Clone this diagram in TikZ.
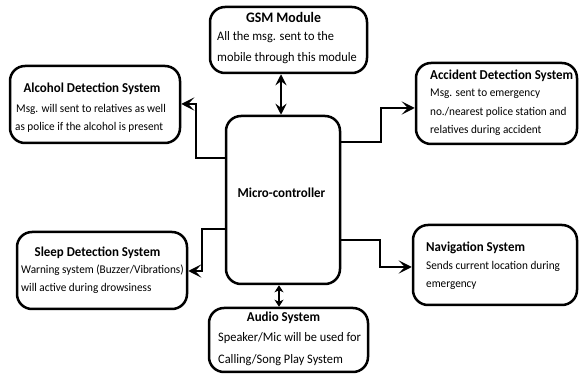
\documentclass[tikz,border=0pt]{standalone}
\usepackage{fontspec}
\setmainfont[FakeStretch=0.95]{Carlito}
\usetikzlibrary{arrows.meta,calc}
\begin{document}
\begin{tikzpicture}[x=1pt,y=-1pt,
  box/.style={draw=black,line width=2.5pt,rounded corners=15pt,inner sep=0pt},
  ttl/.style={anchor=base,inner sep=0pt,font=\bfseries\fontsize{13.6}{16}\selectfont},
  txt/.style={anchor=base west,inner sep=0pt,font=\fontsize{11.8}{14}\selectfont},
  bigtxt/.style={txt,font=\fontsize{13}{15}\selectfont},
  conn/.style={line width=2.4pt,-{Stealth[length=13pt,width=13pt,inset=6pt]}},
  dconn/.style={line width=2.4pt,{Stealth[length=11pt,width=11pt,inset=4pt]}-{Stealth[length=11pt,width=11pt,inset=4pt]}},
  sconn/.style={line width=2.4pt,{Stealth[length=7pt,width=9pt,inset=2pt]}-{Stealth[length=7pt,width=9pt,inset=2pt]}}]
\useasboundingbox (0,0) rectangle (579,374);
% boxes
\node[box,minimum width=157pt,minimum height=66pt] (gsm) at (288.5,40) {};
\node[box,minimum width=170pt,minimum height=77pt] (alc) at (95,104.5) {};
\node[box,minimum width=114pt,minimum height=168pt] (mc) at (283,200) {};
\node[box,minimum width=161pt,minimum height=81pt] (acc) at (496.5,103.5) {};
\node[box,minimum width=170pt,minimum height=77pt] (slp) at (102,270.5) {};
\node[box,minimum width=159pt,minimum height=64pt] (aud) at (288.5,340) {};
\node[box,minimum width=164pt,minimum height=80pt] (nav) at (495,265) {};
% texts
\node[ttl,font=\bfseries\fontsize{14.5}{17}\selectfont] (gsmT) at (283.5,23) {GSM Module};
\node[bigtxt] (gsmA) at (217,41) {All the msg. sent to the};
\node[bigtxt] (gsmB) at (217,62) {mobile through this module};
\node[ttl] (alcT) at (92,93) {Alcohol Detection System};
\node[txt] (alcA) at (16,113) {Msg. will sent to relatives as well};
\node[txt] (alcB) at (15,131) {as police if the alcohol is present};
\node[ttl] (mcT) at (281.5,198) {Micro-controller};
\node[ttl,anchor=base west] (accT) at (430,80) {Accident Detection System};
\node[txt] (accA) at (430,97) {Msg. sent to emergency};
\node[txt] (accB) at (430,116) {no./nearest police station and};
\node[txt] (accC) at (430,134) {relatives during accident};
\node[ttl] (slpT) at (97.5,257) {Sleep Detection System};
\node[txt] (slpA) at (21,274) {Warning system (Buzzer/Vibrations)};
\node[txt] (slpB) at (21,292) {will active during drowsiness};
\node[ttl] (audT) at (283.5,322) {Audio System};
\node[bigtxt] (audA) at (218,342) {Speaker/Mic will be used for};
\node[bigtxt] (audB) at (218,363) {Calling/Song Play System};
\node[ttl,anchor=base west] (navT) at (426,252) {Navigation System};
\node[txt] (navA) at (426,270) {Sends current location during};
\node[txt] (navB) at (426,288) {emergency};
% connectors
\draw[dconn] ([xshift=-2pt]mc.north |- gsm.south) -- ([xshift=-2pt]mc.north);
\draw[sconn] ([xshift=-4pt]mc.south) -- ([xshift=-4pt]mc.south |- aud.north);
\draw[conn] ([yshift=-43pt]mc.north west) -- ++(-29,0) |- ([yshift=0.5pt]alc.east);
\draw[conn] ([yshift=-27pt]mc.north east) -- ++(40,0) |- ([yshift=-4.5pt]acc.west);
\draw[conn] ([yshift=-114pt]mc.north west) -- ++(-23,0) |- ([yshift=-0.5pt]slp.east);
\draw[conn] ([yshift=-125pt]mc.north east) -- ++(39,0) |- ([yshift=-2pt]nav.west);
\end{tikzpicture}
\end{document}
